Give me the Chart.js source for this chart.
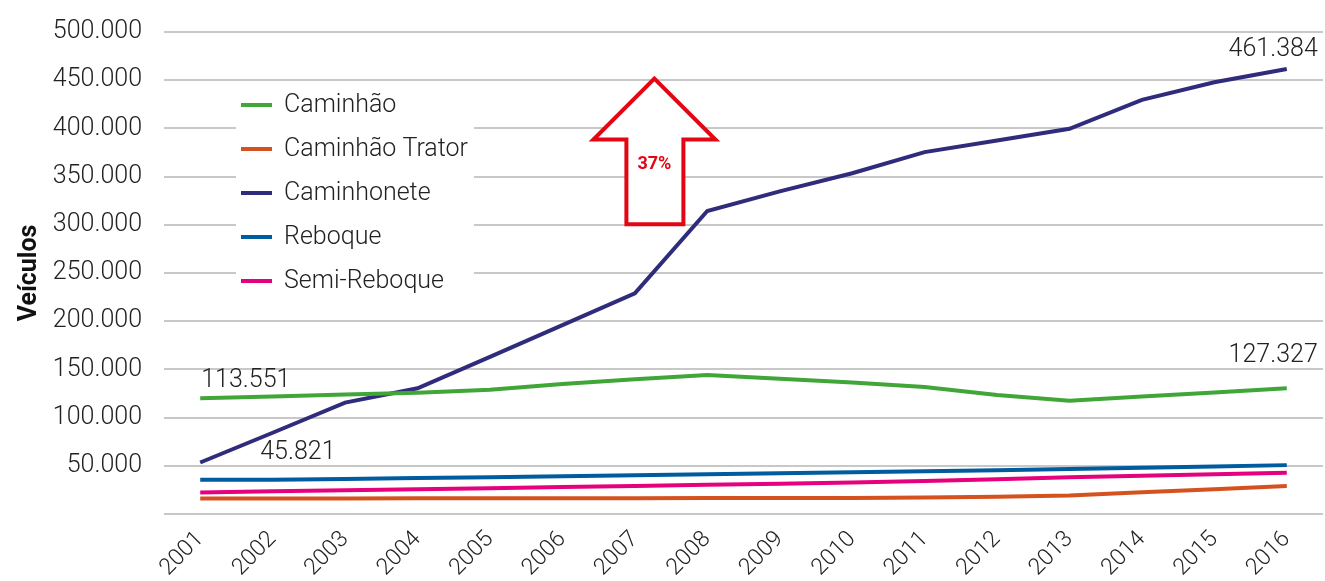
<!DOCTYPE html>
<html lang="pt-BR">
<head>
<meta charset="utf-8">
<title>Veículos</title>
<script src="https://cdn.jsdelivr.net/npm/chart.js@4/dist/chart.umd.min.js"></script>
<style>
    html, body { margin: 0; padding: 0; background: #fff; }
    canvas { display: block; }
</style>
</head>
<body>
<canvas id="chart" width="1325" height="581"></canvas>
<script>
// data
const years = ['2001', '2002', '2003', '2004', '2005', '2006', '2007', '2008',
               '2009', '2010', '2011', '2012', '2013', '2014', '2015', '2016'];
const seriesNames = ['Caminhão', 'Caminhão Trator', 'Caminhonete', 'Reboque', 'Semi-Reboque'];
const caminhao = [120100, 122000, 124000, 125900, 129000, 134900, 139700, 144200,
                  140400, 136300, 131800, 123500, 117600, 121800, 126000, 130400];
const caminhaoTrator = [16200, 16200, 16200, 16300, 16300, 16400, 16400, 16500,
                        16500, 16600, 17000, 18000, 19300, 22500, 25800, 29000];
const caminhonete = [53400, 84300, 115500, 130400, 163000, 196000, 228800, 314300,
                     334700, 353500, 375400, 387500, 399600, 429600, 447800, 461700];
const reboque = [35400, 35500, 36400, 37300, 38200, 39200, 40200, 41200,
                 42200, 43200, 44300, 45400, 46600, 48000, 49400, 50700];
const semiReboque = [22400, 23500, 24600, 25700, 26800, 27900, 29100, 30300,
                     31500, 32700, 34200, 36000, 38000, 39700, 41300, 42800];
const yTicks = [0, 50000, 100000, 150000, 200000, 250000, 300000, 350000, 400000, 450000, 500000];
// value labels: text, series index, year index
const valueLabels = [
    ['113.551', 0, 0],
    ['45.821', 2, 0],
    ['461.384', 2, 15],
    ['127.327', 0, 15]
];
// growth arrow between 2007 and 2008
const arrowText = '37%';
const arrowSpan = [300500, 388400, 451600]; // bottom, shoulders, tip

const colors = ['#41a638', '#d4521f', '#302c7c', '#005b9f', '#e5007d'];
const FONT = 'Roboto, "Liberation Sans", sans-serif';

const fmt = v => v.toLocaleString('de-DE');

// label offsets in pixels, same order as valueLabels
const labelPlace = [
    { dx: 1, dy: -17, align: 'left' },
    { dx: 60, dy: -10, align: 'left' },
    { dx: 31, dy: -19, align: 'right' },
    { dx: 31, dy: -33, align: 'right' }
];

const overlays = {
    id: 'overlays',
    afterDatasetsDraw(chart) {
        const ctx = chart.ctx;
        const xs = chart.scales.x, ys = chart.scales.y;
        ctx.save();

        // value labels
        ctx.font = '300 25px ' + FONT;
        ctx.fillStyle = '#222';
        ctx.textBaseline = 'middle';
        valueLabels.forEach(function (l, i) {
            const v = chart.data.datasets[l[1]].data[l[2]];
            const p = labelPlace[i];
            ctx.textAlign = p.align;
            ctx.fillText(l[0], xs.getPixelForValue(l[2]) + p.dx, ys.getPixelForValue(v) + p.dy);
        });

        // legend inside the plot
        ctx.fillStyle = '#fff';
        ctx.fillRect(236, 84, 238, 220);
        chart.data.datasets.forEach(function (ds, i) {
            const y = 105 + i * 44;
            ctx.strokeStyle = ds.borderColor;
            ctx.lineWidth = 4;
            ctx.beginPath();
            ctx.moveTo(241, y);
            ctx.lineTo(272, y);
            ctx.stroke();
            ctx.fillStyle = '#222';
            ctx.textAlign = 'left';
            ctx.font = '300 25px ' + FONT;
            ctx.fillText(ds.label, 284, y + 1);
        });

        // arrow
        const cx = xs.getPixelForValue(6.27);
        const yb = ys.getPixelForValue(arrowSpan[0]);
        const ysh = ys.getPixelForValue(arrowSpan[1]);
        const yt = ys.getPixelForValue(arrowSpan[2]);
        ctx.beginPath();
        ctx.moveTo(cx, yt);
        ctx.lineTo(cx + 61, ysh);
        ctx.lineTo(cx + 29, ysh);
        ctx.lineTo(cx + 29, yb);
        ctx.lineTo(cx - 28, yb);
        ctx.lineTo(cx - 28, ysh);
        ctx.lineTo(cx - 61, ysh);
        ctx.closePath();
        ctx.fillStyle = '#fff';
        ctx.fill();
        ctx.strokeStyle = '#e30613';
        ctx.lineWidth = 4;
        ctx.lineJoin = 'miter';
        ctx.stroke();
        ctx.fillStyle = '#e30613';
        ctx.textAlign = 'center';
        ctx.font = 'bold 18px ' + FONT;
        ctx.fillText(arrowText, cx, (ysh + yb) / 2 - 17);

        ctx.restore();
    }
};

const seriesData = [caminhao, caminhaoTrator, caminhonete, reboque, semiReboque];

new Chart(document.getElementById('chart'), {
    type: 'line',
    data: {
        labels: years,
        datasets: seriesData.map(function (d, i) {
            return {
                label: seriesNames[i],
                data: d,
                borderColor: colors[i],
                backgroundColor: colors[i],
                borderWidth: 4,
                pointRadius: 0,
                tension: 0,
                fill: false
            };
        })
    },
    options: {
        responsive: false,
        animation: false,
        devicePixelRatio: 1,
        layout: { padding: { top: 32, right: 2, left: 0, bottom: 0 } },
        plugins: {
            legend: { display: false },
            tooltip: { enabled: false }
        },
        scales: {
            x: {
                offset: true,
                grid: { display: false, drawTicks: false },
                border: { display: false },
                afterFit: function (axis) { axis.height = 67; },
                ticks: {
                    minRotation: 45,
                    maxRotation: 45,
                    padding: 12,
                    color: '#222',
                    font: { family: FONT, size: 23, weight: '300' }
                }
            },
            y: {
                min: 0,
                max: 500000,
                afterBuildTicks: function (axis) {
                    axis.ticks = yTicks.map(v => ({ value: v }));
                },
                afterFit: function (axis) { axis.width = 164; },
                // invisible tick marks give the gap between labels and grid
                grid: { color: '#c8c8c8', lineWidth: 2, drawTicks: true, tickLength: 22, tickColor: 'rgba(0,0,0,0)' },
                border: { display: false },
                ticks: {
                    padding: 0,
                    color: '#222',
                    font: { family: FONT, size: 25, weight: '300' },
                    callback: v => v === 0 ? '' : fmt(v)
                },
                title: {
                    display: true,
                    text: 'Veículos',
                    color: '#111',
                    padding: { top: 15, bottom: 0 },
                    font: { family: FONT, size: 25, weight: 'bold' }
                }
            }
        }
    },
    plugins: [overlays]
});
</script>
</body>
</html>
